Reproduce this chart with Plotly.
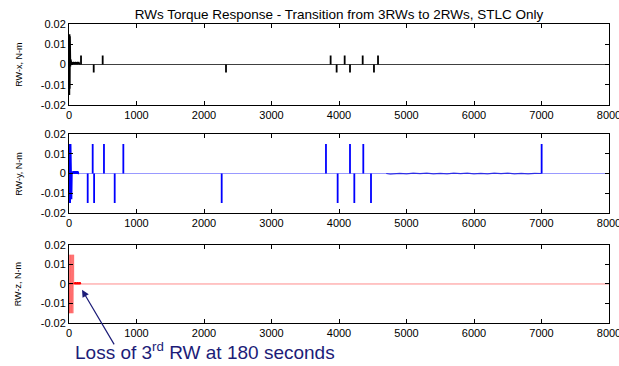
import plotly.graph_objects as go

# ---------------- data ----------------
T_RANGE = [0, 8000]
x_ticks = [0, 1000, 2000, 3000, 4000, 5000, 6000, 7000, 8000]
y_ticks = [-0.02, -0.01, 0, 0.01, 0.02]
y_ticktext = ["-0.02", "-0.01", "0", "0.01", "0.02"]

# RW-x torque (N-m)
rwx_init_t = [0, 4, 7, 10, 13, 16, 19, 22, 26, 30, 35, 40, 48, 56, 64, 72, 80, 88, 96, 104, 112, 120, 128, 136, 144, 152, 160]
rwx_init_v = [0, 0.015, -0.015, 0.015, -0.012, 0.014, 0.003, -0.001, 0.0025, 0.0005, 0.002, 0.0002, 0.0012, 0.0001, 0.0013,
              0.0002, 0.0012, 0.0001, 0.0013, 0.0002, 0.0012, 0.0001, 0.0013, 0.0002, 0.0012, 0.0003, 0]
rwx_spike_t = [178, 366, 499, 2326, 3876, 3965, 4084, 4163, 4351, 4518, 4578]
rwx_spike_v = [0.0045, -0.004, 0.0045, -0.004, 0.0045, -0.004, 0.0045, -0.004, 0.0045, -0.004, 0.0045]

# RW-y torque (N-m)
rwy_init_t = [0, 5, 8, 12, 18, 25, 32, 38, 44, 50, 56, 62, 68, 74, 80, 86, 92, 98, 104, 110, 116, 122, 128, 134, 140, 150]
rwy_init_v = [0, 0.015, -0.015, 0.015, -0.015, 0.015, -0.002, -0.013, 0.0, 0.001, -0.0002, 0.0012, 0.0, 0.0012, -0.0002,
              0.0012, 0.0, 0.0012, -0.0002, 0.0012, 0.0, 0.0012, -0.0002, 0.0010, 0.0, 0]
rwy_spike_t = [277, 351, 372, 518, 677, 805, 2262, 3807, 3980, 4163, 4227, 4360, 4474, 7002]
rwy_spike_v = [-0.015, 0.015, -0.015, 0.015, -0.015, 0.015, -0.015, 0.015, -0.015, 0.015, -0.015, 0.015, -0.015, 0.015]
rwy_noise_t = [4700, 4760, 4900, 5000, 5100, 5200, 5300, 5400, 5500, 5600, 5700, 5800, 5900, 6000,
               6100, 6200, 6300, 6400, 6500, 6600, 6700, 6800, 6900, 7000]
rwy_noise_v = [0.0, -0.0003, 0.0001, -0.0002, 0.0002, -0.0001, 0.0002, -0.0002, 0.0001, -0.0002, 0.0002, -0.0001,
               0.0002, -0.0002, 0.0001, -0.0002, 0.0002, -0.0001, 0.0002, -0.0002, 0.0001, -0.0002, 0.0001, 0.0]

# RW-z torque (N-m)
rwz_init_t = [0, 3, 6, 9, 12, 15, 18, 21, 24, 27, 30, 33, 36, 39, 42, 45, 48, 51, 54, 57, 60, 63, 66, 69, 72]
rwz_init_v = [0, 0.015, -0.015, 0.015, -0.015, 0.015, -0.015, 0.015, -0.015, 0.015, -0.015, 0.015, -0.015,
              0.015, -0.015, 0.015, -0.015, 0.015, -0.015, 0.015, -0.015, 0.015, -0.015, 0.015, 0]
rwz_osc_t = [74, 82, 90, 98, 106, 114, 122, 130, 138, 146, 154, 162, 170, 178]
rwz_osc_v = [0, 0.0008, -0.0002, 0.0009, -0.0001, 0.0008, -0.0002, 0.0009, -0.0001, 0.0008, -0.0002, 0.0009, 0.0002, 0]

loss_time = 180  # seconds


def spikes(ts, vs):
    xs, ys = [], []
    for t, v in zip(ts, vs):
        xs += [t, t, t, None]
        ys += [0, v, 0, None]
    return xs, ys


FONT = "Liberation Sans, Arial, sans-serif"
fig = go.Figure()

# domains (paper fractions)
doms = [[0.729, 1.0], [0.368, 0.632], [0.0, 0.261]]
names = ["RW-x, N-m", "RW-y, N-m", "RW-z, N-m"]

# --- RW-x ---
fig.add_trace(go.Scatter(x=T_RANGE, y=[0, 0], mode="lines", line=dict(color="rgba(0,0,0,0.75)", width=1),
                         xaxis="x", yaxis="y", hoverinfo="skip"))
fig.add_trace(go.Scatter(x=rwx_init_t, y=rwx_init_v, mode="lines", line=dict(color="black", width=1.5),
                         xaxis="x", yaxis="y"))
sx, sy = spikes(rwx_spike_t, rwx_spike_v)
fig.add_trace(go.Scatter(x=sx, y=sy, mode="lines", line=dict(color="black", width=1.8), xaxis="x", yaxis="y"))

# --- RW-y ---
fig.add_trace(go.Scatter(x=T_RANGE, y=[0, 0], mode="lines", line=dict(color="rgba(0,0,255,0.4)", width=1),
                         xaxis="x2", yaxis="y2", hoverinfo="skip"))
fig.add_trace(go.Scatter(x=rwy_init_t, y=rwy_init_v, mode="lines", line=dict(color="#0000ff", width=1.5),
                         xaxis="x2", yaxis="y2"))
fig.add_trace(go.Scatter(x=rwy_noise_t, y=rwy_noise_v, mode="lines", line=dict(color="rgba(0,0,220,0.7)", width=1.2),
                         xaxis="x2", yaxis="y2"))
sx, sy = spikes(rwy_spike_t, rwy_spike_v)
fig.add_trace(go.Scatter(x=sx, y=sy, mode="lines", line=dict(color="#0000ff", width=1.8), xaxis="x2", yaxis="y2"))

# --- RW-z ---
fig.add_trace(go.Scatter(x=T_RANGE, y=[0, 0], mode="lines", line=dict(color="rgba(255,0,0,0.45)", width=1),
                         xaxis="x3", yaxis="y3", hoverinfo="skip"))
fig.add_trace(go.Scatter(x=rwz_init_t, y=rwz_init_v, mode="lines", line=dict(color="rgba(255,0,0,0.3)", width=1),
                         xaxis="x3", yaxis="y3"))
fig.add_trace(go.Scatter(x=rwz_osc_t, y=rwz_osc_v, mode="lines", line=dict(color="#ff0000", width=1.5),
                         xaxis="x3", yaxis="y3"))

axis_common = dict(range=T_RANGE, tickvals=x_ticks, ticks="inside", ticklen=4, tickcolor="black",
                   showline=True, linecolor="black", linewidth=1, mirror="ticks", showgrid=False, zeroline=False,
                   ticklabeloverflow="allow", automargin=False,
                   tickfont=dict(family=FONT, size=11, color="black"))
yaxis_common = dict(range=[-0.02, 0.02], tickvals=y_ticks, ticktext=y_ticktext, ticks="inside", ticklen=4,
                    tickcolor="black", showline=True, linecolor="black", linewidth=1, mirror="ticks",
                    showgrid=False, zeroline=False, automargin=False,
                    tickfont=dict(family=FONT, size=11, color="black"))

layout = dict(
    width=619, height=366,
    margin=dict(l=69, r=10, t=24, b=43),
    paper_bgcolor="white", plot_bgcolor="white",
    showlegend=False,
    title=dict(text="RWs Torque Response - Transition from 3RWs to 2RWs, STLC Only",
               font=dict(family=FONT, size=13.5, color="black"), x=0.5, xref="paper",
               y=1 - 14 / 366, yanchor="middle"),
)
for i, suf in enumerate(["", "2", "3"]):
    layout["xaxis" + suf] = dict(axis_common, anchor="y" + suf, domain=[0, 1])
    layout["yaxis" + suf] = dict(yaxis_common, anchor="x" + suf, domain=doms[i])
fig.update_layout(**layout)

annos = []
for i, nm in enumerate(names):
    annos.append(dict(text=nm, xref="paper", yref="paper", x=-0.094, y=(doms[i][0] + doms[i][1]) / 2,
                      textangle=-90, showarrow=False, xanchor="center", yanchor="middle",
                      font=dict(family=FONT, size=9, color="black")))
# arrow
annos.append(dict(text="", xref="x3", yref="y3", x=loss_time + 13, y=-0.003, ax=33, ay=56,
                  showarrow=True, arrowhead=2, arrowsize=1.2, arrowwidth=1.2, arrowcolor="#1c1c78"))
annos.append(dict(text="Loss of 3<sup>rd</sup> RW at 180 seconds", xref="paper", yref="paper",
                  x=(73 - 69) / 540, y=(323 - 351) / 299, xanchor="left", yanchor="middle", showarrow=False,
                  font=dict(family=FONT, size=19, color="#1c1c78")))
fig.update_layout(annotations=annos)

fig.write_html("out.html")
